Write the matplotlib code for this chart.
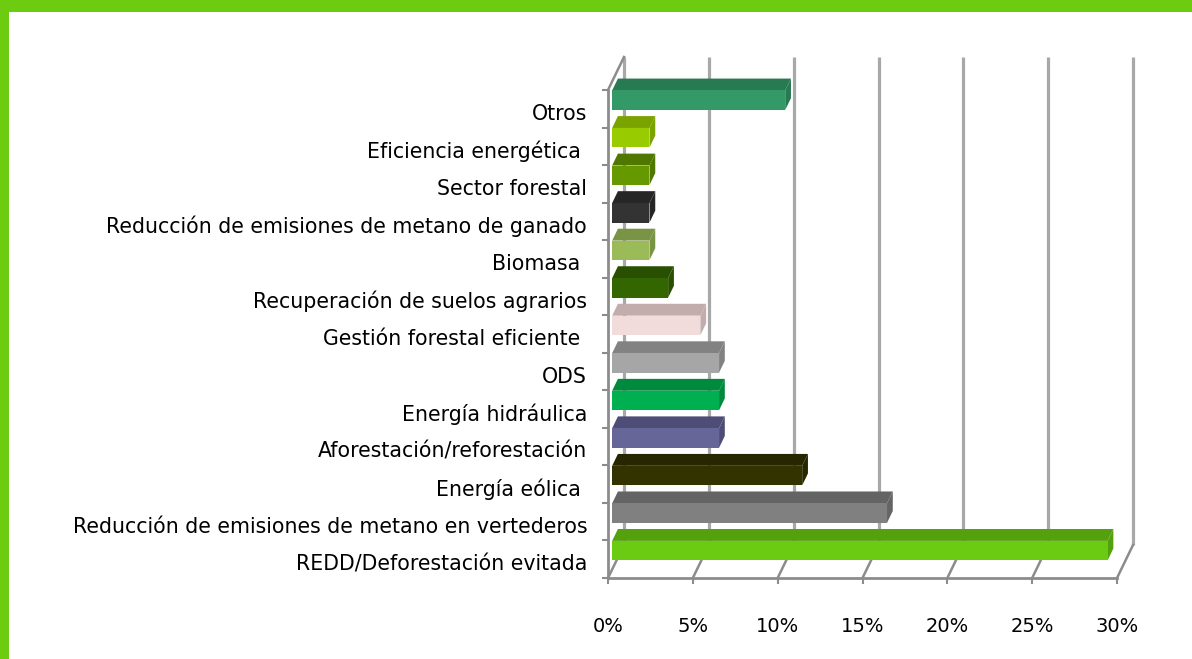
import matplotlib
matplotlib.use('Agg')
import matplotlib.pyplot as plt
from matplotlib.patches import Rectangle
from matplotlib.transforms import ScaledTranslation

# ---------------- data ----------------
categories = [
    "REDD/Deforestación evitada",
    "Reducción de emisiones de metano en vertederos",
    "Energía eólica ",
    "Aforestación/reforestación",
    "Energía hidráulica",
    "ODS",
    "Gestión forestal eficiente ",
    "Recuperación de suelos agrarios",
    "Biomasa ",
    "Reducción de emisiones de metano de ganado",
    "Sector forestal",
    "Eficiencia energética ",
    "Otros",
]
values = [29.2, 16.2, 11.2, 6.3, 6.3, 6.3, 5.2, 3.3, 2.2, 2.2, 2.2, 2.2, 10.2]
front_colors = ["#6BCB12", "#808080", "#333300", "#666699", "#00B050", "#A6A6A6",
                "#F2DCDB", "#336600", "#9BBB59", "#333333", "#669900", "#99CC00", "#339966"]
top_colors = ["#55A00D", "#646464", "#262600", "#4D4D77", "#008A3E", "#828282",
              "#C2ADAC", "#285000", "#7A9446", "#262626", "#507800", "#7AA300", "#287A52"]
xticks = [0, 5, 10, 15, 20, 25, 30]
xtick_labels = ["0%", "5%", "10%", "15%", "20%", "25%", "30%"]

# ---------------- figure ----------------
W, H = 1192, 659
fig = plt.figure(figsize=(W / 100, H / 100), dpi=100)
fig.patch.set_facecolor("white")

ax_l, ax_r, ax_b, ax_t = 608, 1117, 578, 90
ax = fig.add_axes([ax_l / W, (H - ax_b) / H, (ax_r - ax_l) / W, (ax_b - ax_t) / H])
n = len(categories)
ax.set_xlim(0, 30)
ax.set_ylim(-0.5, n - 0.5)
ax.set_facecolor("none")

# oblique depth (full depth of the 3-D box) in data units
px_x = (ax_r - ax_l) / 30.0
px_y = (ax_b - ax_t) / n
DX = 16 / px_x
DY = 33 / px_y

grid_c = "#A8A8A8"
axis_c = "#8C8C8C"

# back wall gridlines
for t in xticks:
    ax.plot([t + DX, t + DX], [-0.5 + DY, n - 0.5 + DY], color=grid_c, lw=2.3,
            clip_on=False, zorder=1, solid_capstyle="butt")
# floor diagonals
for t in xticks:
    ax.plot([t, t + DX], [-0.5, -0.5 + DY], color=axis_c, lw=1.8, clip_on=False, zorder=1)
# left wall top edge
ax.plot([0, DX], [n - 0.5, n - 0.5 + DY], color=axis_c, lw=1.8, clip_on=False, zorder=1)

# bars (pseudo 3-D)
f0, fd, h = 0.26, 0.36, 0.52
x0 = f0 * DX
for i in range(n - 1, -1, -1):
    v = values[i]
    yc = i + f0 * DY
    ytop = yc + h / 2
    ybot = yc - h / 2
    ax.fill([x0, x0 + v, x0 + v + fd * DX, x0 + fd * DX],
            [ytop, ytop, ytop + fd * DY, ytop + fd * DY],
            color=top_colors[i], lw=0, zorder=3, clip_on=False)
    ax.fill([x0 + v, x0 + v + fd * DX, x0 + v + fd * DX, x0 + v],
            [ybot, ybot + fd * DY, ytop + fd * DY, ytop],
            color=top_colors[i], lw=0, zorder=3, clip_on=False)
    ax.barh(yc, v, left=x0, height=h, color=front_colors[i], lw=0, zorder=4)

# front axes
for s in ["top", "right"]:
    ax.spines[s].set_visible(False)
for s in ["left", "bottom"]:
    ax.spines[s].set_color(axis_c)
    ax.spines[s].set_linewidth(2)
    ax.spines[s].set_zorder(5)

ax.set_xticks(xticks)
ax.set_xticklabels(xtick_labels)
ax.tick_params(axis="x", direction="out", length=4, width=1.5, color=axis_c,
               pad=24, labelsize=14, labelcolor="black")

ax.set_yticks(range(n))
ax.set_yticklabels(categories)
ax.set_yticks([k - 0.5 for k in range(n + 1)], minor=True)
ax.tick_params(axis="y", which="major", length=0, pad=15, labelsize=14.8, labelcolor="black")
ax.tick_params(axis="y", which="minor", direction="out", length=4, width=1.5, color=axis_c)

shift_down = ScaledTranslation(0, -3 / 100, fig.dpi_scale_trans)
for lab in ax.get_yticklabels():
    lab.set_fontfamily("DejaVu Sans")
    lab.set_transform(lab.get_transform() + shift_down)
for lab in ax.get_xticklabels():
    lab.set_fontfamily("DejaVu Sans")

# green frame
green = "#6DCB10"
fig.add_artist(Rectangle((0, 1 - 12 / H), 1, 12 / H, transform=fig.transFigure,
                         color=green, lw=0, zorder=10))
fig.add_artist(Rectangle((0, 0), 9 / W, 1, transform=fig.transFigure,
                         color=green, lw=0, zorder=10))

fig.savefig("out.png", dpi=100)
